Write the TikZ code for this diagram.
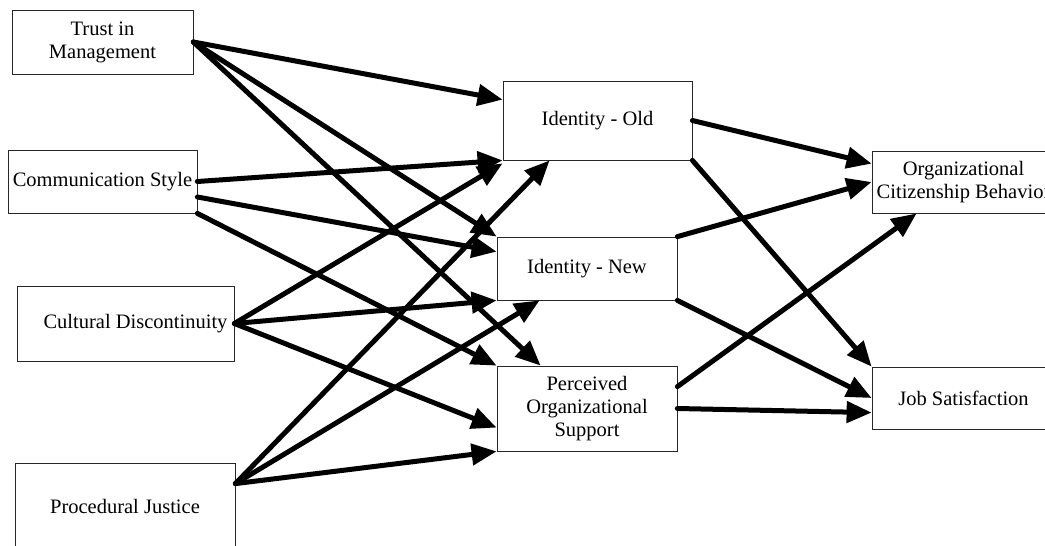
\documentclass[tikz,border=0pt]{standalone}
\usepackage{fontspec}
\setmainfont{Liberation Serif}
\usetikzlibrary{arrows.meta}

\begin{document}
\begin{tikzpicture}[x=1pt,y=-1pt,
  box/.style={draw=black!85, line width=0.8pt, align=center, inner sep=0pt,
              font=\fontsize{20.5}{23}\selectfont},
  link/.style={line width=5pt, line cap=round,
               -{Triangle[length=25pt,width=21pt]}}]

\clip (0,0) rectangle (1045,546);

% predictors
\node[box, minimum width=181pt, minimum height=64pt] (tm) at (102.5,42) {Trust in\\Management};
\node[box, minimum width=189pt, minimum height=63pt] (cs) at (102.5,181.5) {Communication Style};
\node[box, minimum width=217pt, minimum height=75pt] (cd) at (125.5,323.5) {\hspace*{20pt}Cultural Discontinuity};
\node[box, minimum width=220pt, minimum height=87pt] (pj) at (125,506.5) {Procedural Justice};

% mediators
\node[box, minimum width=189pt, minimum height=79pt] (io) at (597.5,120.5) {Identity - Old};
\node[box, minimum width=180pt, minimum height=63pt] (in) at (587,268.5) {Identity - New};
\node[box, minimum width=180pt, minimum height=85pt] (pos) at (587,408.5) {Perceived\\Organizational\\Support};

% outcomes
\node[box, minimum width=183pt, minimum height=62pt] (ocb) at (963.5,182) {Organizational\\Citizenship Behavior};
\node[box, minimum width=183pt, minimum height=62pt] (js) at (963.5,398) {Job Satisfaction};

% trust in management
\draw[link] (tm.east) -- ([yshift=-19pt]io.north west);
\draw[link] (tm.east) -- (in.north west);
\draw[link] (tm.east) -- ([xshift=44pt]pos.north west);

% communication style
\draw[link] (cs.east) -- (io.south west);
\draw[link] ([yshift=-15.5pt]cs.east) -- ([yshift=-15pt]in.north west);
\draw[link] (cs.south east) -- (pos.north west);

% cultural discontinuity
\draw[link] (cd.east) -- ([yshift=-3pt]io.south west);
\draw[link] (cd.east) -- (in.south west);
\draw[link] (cd.east) -- ([yshift=-62pt]pos.north west);

% procedural justice
\draw[link] ([yshift=-21pt]pj.north east) -- ([xshift=47pt]io.south west);
\draw[link] ([yshift=-21pt]pj.north east) -- ([xshift=43pt]in.south west);
\draw[link] ([yshift=-21pt]pj.north east) -- (pos.south west);

% mediators to outcomes
\draw[link] (io.east) -- ([yshift=-13pt]ocb.north west);
\draw[link] (io.south east) -- (js.north west);
\draw[link] (in.north east) -- (ocb.west);
\draw[link] (in.south east) -- (js.west);
\draw[link] ([yshift=-21pt]pos.north east) -- ([xshift=45pt]ocb.south west);
\draw[link] (pos.east) -- ([yshift=-46pt]js.north west);

\end{tikzpicture}
\end{document}
